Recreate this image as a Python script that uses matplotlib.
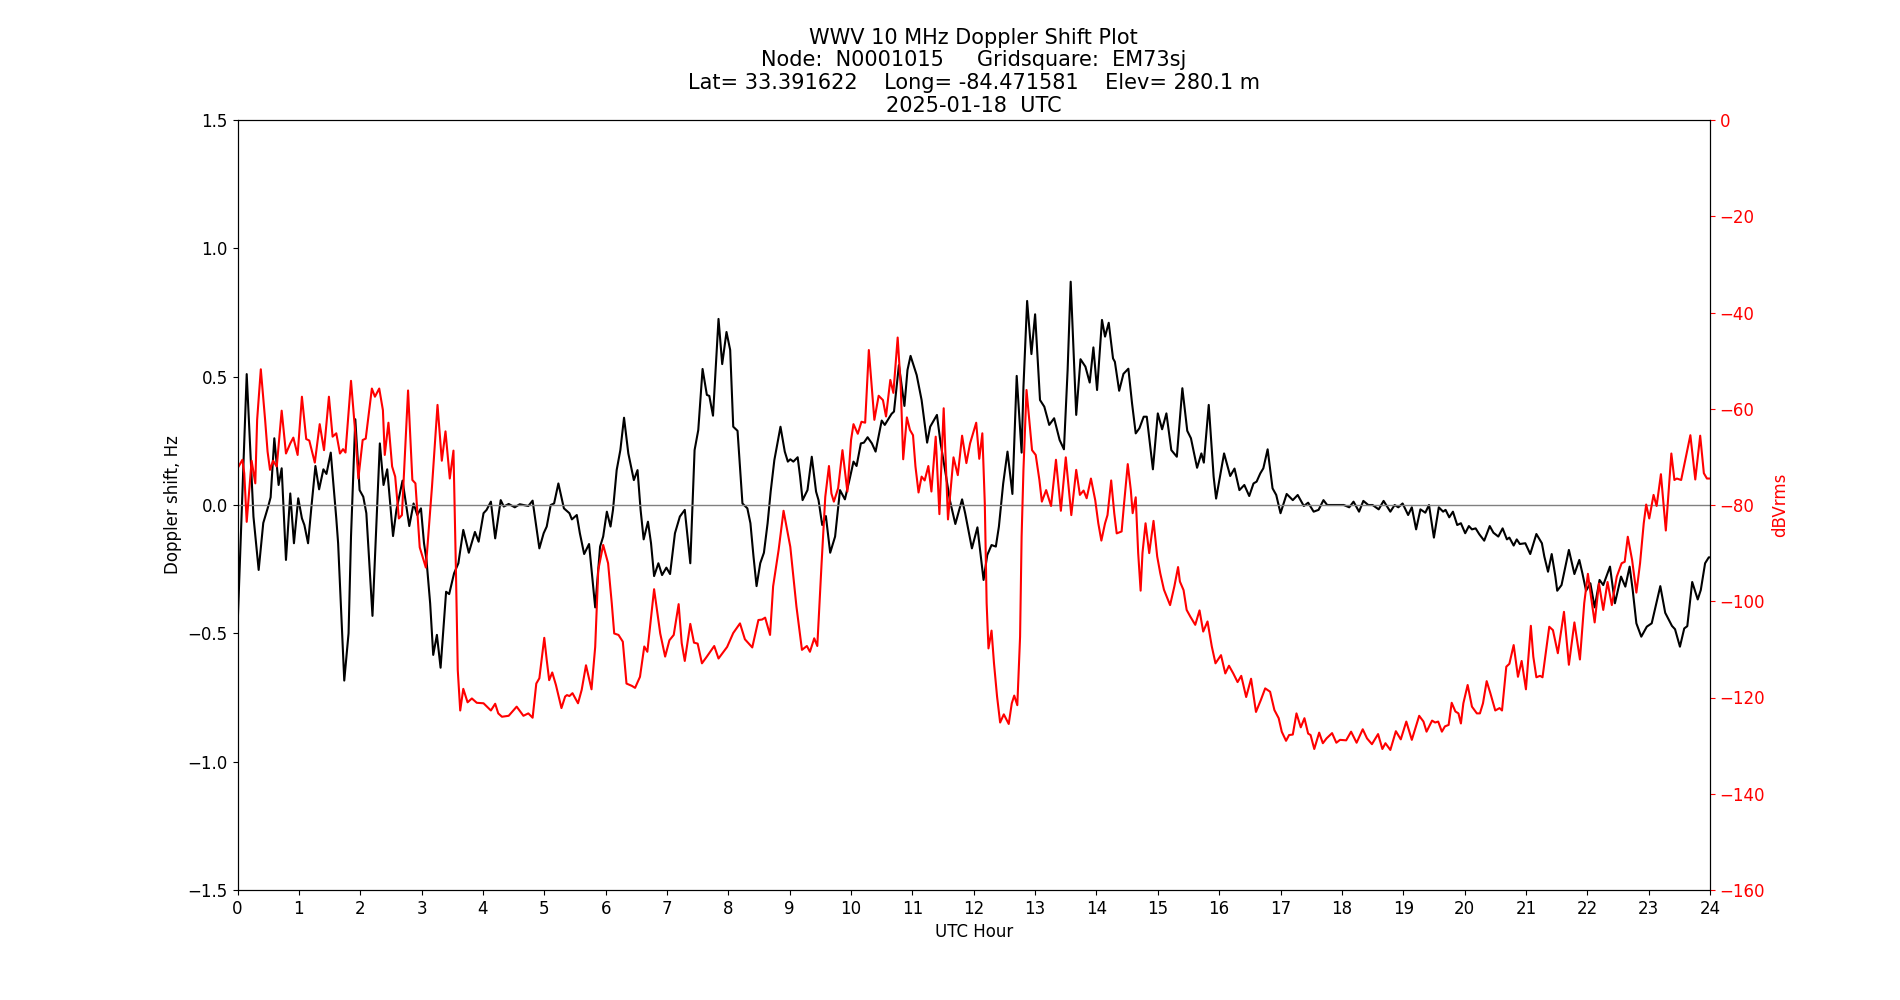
import matplotlib
matplotlib.use("Agg")
from matplotlib import pyplot as plt

plt.rcParams["font.size"] = 12

# Doppler shift (Hz) vs UTC hour
dop_hour = [0.0, 0.15, 0.26, 0.345, 0.42, 0.50, 0.54, 0.60, 0.67, 0.72, 0.79, 0.86, 0.92, 0.99, 1.05, 1.09,
            1.15, 1.21, 1.27, 1.33, 1.40, 1.45, 1.52, 1.61, 1.64, 1.74, 1.81, 1.85, 1.92, 1.99, 2.05, 2.10,
            2.20, 2.32, 2.38, 2.44, 2.535, 2.59, 2.69, 2.80, 2.87, 2.93, 2.99, 3.04, 3.08, 3.14, 3.19, 3.25,
            3.31, 3.40, 3.45, 3.53, 3.60, 3.68, 3.77, 3.87, 3.93, 4.01, 4.06, 4.13, 4.20, 4.29, 4.34, 4.42,
            4.52, 4.60, 4.74, 4.81, 4.92, 4.99, 5.04, 5.105, 5.16, 5.23, 5.32, 5.41, 5.45, 5.53, 5.58, 5.65,
            5.73, 5.83, 5.91, 5.96, 6.02, 6.08, 6.12, 6.18, 6.24, 6.30, 6.37, 6.46, 6.52, 6.57, 6.62, 6.69,
            6.74, 6.79, 6.86, 6.92, 6.99, 7.05, 7.13, 7.21, 7.29, 7.38, 7.45, 7.51, 7.58, 7.65, 7.69, 7.75,
            7.84, 7.90, 7.97, 8.03, 8.08, 8.15, 8.23, 8.31, 8.36, 8.41, 8.46, 8.52, 8.58, 8.64, 8.69, 8.75,
            8.85, 8.92, 8.97, 9.01, 9.06, 9.13, 9.17, 9.21, 9.29, 9.36, 9.43, 9.47, 9.53, 9.59, 9.66, 9.74,
            9.82, 9.90, 9.98, 10.04, 10.09, 10.16, 10.21, 10.27, 10.34, 10.40, 10.50, 10.55, 10.66, 10.70,
            10.78, 10.87, 10.92, 10.97, 11.07, 11.15, 11.24, 11.29, 11.40, 11.46, 11.55, 11.61, 11.70, 11.81,
            11.86, 11.97, 12.06, 12.16, 12.22, 12.29, 12.36, 12.41, 12.48, 12.55, 12.63, 12.70, 12.78, 12.81,
            12.87, 12.94, 13.00, 13.08, 13.15, 13.23, 13.31, 13.40, 13.47, 13.53, 13.58, 13.67, 13.74, 13.82,
            13.89, 13.95, 14.01, 14.09, 14.14, 14.20, 14.27, 14.30, 14.37, 14.44, 14.52, 14.58, 14.64, 14.70,
            14.77, 14.82, 14.92, 15.00, 15.07, 15.14, 15.22, 15.31, 15.40, 15.48, 15.54, 15.64, 15.71, 15.75,
            15.83, 15.91, 15.95, 16.08, 16.18, 16.25, 16.33, 16.41, 16.49, 16.56, 16.61, 16.67, 16.72, 16.79,
            16.87, 16.93, 17.00, 17.10, 17.20, 17.28, 17.38, 17.45, 17.54, 17.62, 17.70, 17.76, 17.86, 18.03,
            18.12, 18.19, 18.28, 18.35, 18.43, 18.50, 18.60, 18.68, 18.79, 18.86, 18.92, 18.99, 19.08, 19.14,
            19.21, 19.28, 19.36, 19.42, 19.50, 19.58, 19.65, 19.69, 19.75, 19.81, 19.88, 19.94, 20.01, 20.07,
            20.12, 20.18, 20.24, 20.32, 20.41, 20.47, 20.55, 20.62, 20.69, 20.73, 20.80, 20.85, 20.90, 20.99,
            21.07, 21.17, 21.26, 21.30, 21.36, 21.42, 21.48, 21.51, 21.58, 21.70, 21.79, 21.87, 21.92, 21.98,
            22.05, 22.12, 22.20, 22.26, 22.37, 22.45, 22.55, 22.62, 22.69, 22.74, 22.80, 22.88, 22.97, 23.05,
            23.19, 23.27, 23.38, 23.43, 23.51, 23.58, 23.63, 23.71, 23.80, 23.85, 23.92, 23.98, 24.0]
dop_hz = [-0.48, 0.51, -0.045, -0.253, -0.07, -0.006, 0.03, 0.26, 0.078, 0.143, -0.214, 0.045, -0.149, 0.026,
          -0.052, -0.078, -0.149, 0.006, 0.152, 0.061, 0.139, 0.121, 0.204, -0.052, -0.149, -0.684, -0.5, -0.123,
          0.334, 0.058, 0.032, -0.032, -0.432, 0.24, 0.078, 0.139, -0.121, -0.019, 0.095, -0.082, 0.006, -0.039,
          -0.013, -0.149, -0.214, -0.383, -0.584, -0.506, -0.634, -0.338, -0.347, -0.266, -0.227, -0.097, -0.186,
          -0.105, -0.143, -0.032, -0.019, 0.013, -0.13, 0.019, -0.006, 0.004, -0.009, 0.003, -0.004, 0.017,
          -0.169, -0.11, -0.084, 0.0, 0.006, 0.084, -0.013, -0.032, -0.056, -0.039, -0.11, -0.191, -0.152,
          -0.399, -0.162, -0.123, -0.026, -0.084, -0.019, 0.136, 0.214, 0.34, 0.201, 0.097, 0.136, -0.019,
          -0.134, -0.065, -0.149, -0.277, -0.227, -0.273, -0.244, -0.269, -0.11, -0.045, -0.019, -0.227, 0.214,
          0.292, 0.53, 0.429, 0.425, 0.348, 0.725, 0.549, 0.674, 0.604, 0.305, 0.289, 0.006, -0.013, -0.071,
          -0.2, -0.316, -0.227, -0.186, -0.071, 0.052, 0.175, 0.305, 0.208, 0.169, 0.178, 0.169, 0.186, 0.11,
          0.019, 0.058, 0.188, 0.052, 0.019, -0.078, -0.043, -0.186, -0.123, 0.058, 0.022, 0.104, 0.169, 0.152,
          0.24, 0.243, 0.264, 0.24, 0.208, 0.329, 0.312, 0.355, 0.364, 0.545, 0.386, 0.526, 0.581, 0.506,
          0.409, 0.243, 0.305, 0.351, 0.24, 0.11, 0.019, -0.074, 0.022, -0.032, -0.169, -0.087, -0.292, -0.195,
          -0.156, -0.162, -0.084, 0.084, 0.208, 0.043, 0.503, 0.204, 0.46, 0.795, 0.588, 0.743, 0.409, 0.383,
          0.312, 0.338, 0.253, 0.217, 0.526, 0.87, 0.351, 0.568, 0.539, 0.477, 0.614, 0.448, 0.721, 0.656,
          0.71, 0.571, 0.558, 0.445, 0.511, 0.531, 0.396, 0.279, 0.299, 0.344, 0.344, 0.139, 0.357, 0.295,
          0.357, 0.214, 0.188, 0.455, 0.289, 0.26, 0.145, 0.201, 0.165, 0.39, 0.11, 0.025, 0.201, 0.113, 0.142,
          0.058, 0.078, 0.035, 0.084, 0.091, 0.123, 0.143, 0.217, 0.065, 0.039, -0.032, 0.043, 0.019, 0.039,
          -0.004, 0.009, -0.026, -0.019, 0.019, 0.0, 0.0, 0.0, -0.009, 0.013, -0.026, 0.016, 0.0, 0.0, -0.017,
          0.016, -0.026, 0.0, -0.009, 0.006, -0.039, -0.009, -0.095, -0.017, -0.03, 0.0, -0.127, -0.009,
          -0.026, -0.019, -0.048, -0.026, -0.078, -0.071, -0.11, -0.082, -0.095, -0.091, -0.114, -0.139,
          -0.082, -0.108, -0.123, -0.091, -0.134, -0.127, -0.158, -0.134, -0.152, -0.149, -0.191, -0.113,
          -0.149, -0.201, -0.26, -0.191, -0.279, -0.334, -0.312, -0.175, -0.269, -0.214, -0.266, -0.334,
          -0.305, -0.399, -0.292, -0.312, -0.24, -0.383, -0.279, -0.318, -0.24, -0.331, -0.461, -0.513,
          -0.474, -0.461, -0.316, -0.42, -0.471, -0.484, -0.552, -0.481, -0.472, -0.3, -0.368, -0.331,
          -0.227, -0.204, -0.204]

# received signal level (dBVrms) vs UTC hour
pwr_hour = [0.0, 0.08, 0.11, 0.15, 0.23, 0.29, 0.32, 0.38, 0.45, 0.49, 0.53, 0.58, 0.64, 0.72, 0.79, 0.86,
            0.91, 0.98, 1.05, 1.12, 1.17, 1.26, 1.34, 1.41, 1.49, 1.55, 1.61, 1.67, 1.72, 1.76, 1.85, 1.92,
            1.97, 2.04, 2.09, 2.19, 2.24, 2.31, 2.37, 2.40, 2.46, 2.52, 2.57, 2.63, 2.68, 2.78, 2.85, 2.90,
            2.97, 3.07, 3.17, 3.26, 3.33, 3.39, 3.46, 3.52, 3.56, 3.59, 3.63, 3.68, 3.75, 3.82, 3.90, 4.01,
            4.13, 4.20, 4.25, 4.31, 4.42, 4.55, 4.66, 4.74, 4.81, 4.87, 4.92, 5.00, 5.04, 5.08, 5.13, 5.19,
            5.28, 5.34, 5.37, 5.41, 5.46, 5.55, 5.61, 5.68, 5.77, 5.83, 5.88, 5.96, 6.04, 6.10, 6.14, 6.21,
            6.28, 6.34, 6.43, 6.48, 6.56, 6.63, 6.68, 6.79, 6.89, 6.97, 7.04, 7.11, 7.19, 7.24, 7.29, 7.38,
            7.44, 7.50, 7.57, 7.65, 7.77, 7.84, 7.91, 7.98, 8.08, 8.19, 8.27, 8.39, 8.49, 8.55, 8.60, 8.68,
            8.73, 8.82, 8.90, 9.01, 9.11, 9.20, 9.28, 9.33, 9.40, 9.45, 9.52, 9.58, 9.64, 9.68, 9.72, 9.79,
            9.86, 9.94, 10.00, 10.04, 10.11, 10.17, 10.23, 10.29, 10.38, 10.45, 10.52, 10.57, 10.64, 10.69,
            10.76, 10.81, 10.85, 10.91, 10.96, 11.01, 11.05, 11.10, 11.15, 11.20, 11.26, 11.31, 11.38, 11.44,
            11.51, 11.58, 11.67, 11.74, 11.81, 11.88, 11.94, 12.04, 12.09, 12.14, 12.18, 12.21, 12.24, 12.29,
            12.33, 12.38, 12.43, 12.49, 12.57, 12.62, 12.66, 12.71, 12.755, 12.78, 12.81, 12.86, 12.95, 13.01,
            13.07, 13.11, 13.18, 13.26, 13.34, 13.42, 13.50, 13.59, 13.67, 13.73, 13.79, 13.84, 13.91, 13.98,
            14.03, 14.08, 14.14, 14.18, 14.24, 14.29, 14.33, 14.41, 14.45, 14.51, 14.56, 14.59, 14.64, 14.68,
            14.72, 14.75, 14.80, 14.86, 14.93, 14.99, 15.04, 15.10, 15.20, 15.27, 15.33, 15.36, 15.42, 15.47,
            15.53, 15.61, 15.68, 15.74, 15.81, 15.88, 15.94, 16.03, 16.10, 16.16, 16.23, 16.30, 16.36, 16.44,
            16.52, 16.60, 16.68, 16.75, 16.83, 16.90, 16.97, 17.02, 17.09, 17.14, 17.20, 17.26, 17.33, 17.39,
            17.45, 17.49, 17.55, 17.63, 17.69, 17.75, 17.84, 17.91, 17.97, 18.07, 18.15, 18.24, 18.34, 18.41,
            18.49, 18.59, 18.66, 18.71, 18.79, 18.88, 18.96, 19.05, 19.14, 19.26, 19.33, 19.38, 19.47, 19.52,
            19.57, 19.63, 19.68, 19.74, 19.79, 19.85, 19.90, 19.94, 19.98, 20.05, 20.12, 20.20, 20.25, 20.30,
            20.36, 20.42, 20.50, 20.57, 20.61, 20.68, 20.73, 20.80, 20.87, 20.93, 21.00, 21.08, 21.12, 21.17,
            21.23, 21.27, 21.38, 21.44, 21.52, 21.62, 21.70, 21.79, 21.88, 21.95, 22.01, 22.06, 22.12, 22.19,
            22.26, 22.33, 22.40, 22.48, 22.56, 22.61, 22.66, 22.73, 22.80, 22.86, 22.92, 22.96, 23.01, 23.08,
            23.13, 23.20, 23.28, 23.37, 23.42, 23.46, 23.53, 23.68, 23.76, 23.84, 23.90, 23.95, 24.0]
pwr_db = [-72.4, -70.6, -73.4, -83.5, -70.8, -75.5, -62.3, -51.8, -62.3, -68.9, -72.7, -70.8, -72.0, -60.4,
          -69.3, -67.2, -66.0, -69.6, -57.5, -66.3, -66.6, -71.2, -63.2, -68.6, -57.5, -65.8, -65.1, -69.3,
          -68.4, -69.1, -54.2, -65.1, -74.5, -66.5, -66.2, -55.8, -57.5, -55.8, -60.3, -69.6, -62.9, -72.0,
          -74.1, -82.8, -82.1, -56.2, -74.8, -75.5, -88.8, -93.0, -76.2, -59.2, -70.8, -64.7, -74.5, -68.7,
          -93.5, -114.3, -122.7, -118.2, -121.0, -120.2, -121.1, -121.2, -122.7, -121.3, -123.3, -124.0,
          -123.8, -121.9, -123.8, -123.3, -124.2, -117.1, -116.0, -107.6, -112.2, -116.4, -114.8, -117.4,
          -122.2, -119.8, -119.5, -119.7, -119.1, -121.2, -118.4, -113.3, -118.3, -109.5, -93.5, -88.3,
          -92.1, -100.4, -106.7, -107.0, -108.4, -117.1, -117.6, -118.0, -115.7, -109.4, -110.5, -97.5,
          -106.7, -111.5, -108.1, -107.0, -100.6, -108.7, -112.4, -104.7, -108.6, -108.8, -112.9, -111.5,
          -109.3, -111.9, -110.7, -109.5, -106.6, -104.6, -107.9, -109.6, -103.9, -103.8, -103.4, -107.0,
          -96.9, -89.3, -81.2, -88.7, -101.1, -110.1, -109.3, -110.5, -107.7, -109.3, -92.1, -78.3, -71.9,
          -77.6, -79.3, -76.5, -68.6, -77.2, -66.5, -63.2, -65.2, -62.7, -62.9, -47.8, -62.3, -57.3, -58.2,
          -61.6, -54.0, -56.7, -45.2, -55.4, -70.5, -61.8, -64.4, -65.5, -72.0, -77.4, -74.1, -74.9, -71.9,
          -77.2, -65.8, -81.9, -59.9, -83.0, -70.1, -73.8, -65.6, -71.3, -67.2, -62.9, -70.4, -65.1, -79.7,
          -100.4, -109.8, -106.1, -112.9, -119.8, -125.2, -123.5, -125.5, -121.2, -119.6, -121.6, -107.4,
          -86.6, -72.7, -56.1, -68.6, -69.6, -74.8, -79.3, -76.9, -80.2, -70.6, -81.2, -70.1, -82.1, -72.7,
          -77.9, -77.0, -78.6, -74.5, -79.0, -83.8, -87.4, -83.8, -82.1, -74.9, -81.7, -85.9, -85.5, -79.7,
          -71.5, -76.9, -81.7, -78.4, -90.0, -97.8, -90.0, -83.8, -90.0, -83.3, -90.7, -94.2, -97.6, -100.8,
          -96.9, -92.9, -95.9, -97.7, -101.8, -103.2, -104.9, -101.9, -106.3, -104.2, -109.4, -112.9, -111.2,
          -115.0, -113.4, -115.0, -116.8, -115.5, -119.9, -116.1, -123.0, -120.5, -118.1, -118.8, -122.6,
          -124.3, -127.1, -129.0, -127.8, -127.7, -123.3, -126.2, -124.3, -127.5, -127.8, -130.7, -127.3,
          -129.5, -128.5, -127.4, -129.4, -128.8, -128.9, -127.1, -129.4, -126.6, -128.5, -129.7, -127.6,
          -130.7, -129.5, -130.9, -127.0, -128.7, -125.0, -128.8, -123.8, -125.0, -127.1, -124.8, -125.2,
          -125.0, -127.1, -126.0, -125.7, -121.1, -122.9, -123.3, -125.4, -121.2, -117.4, -121.9, -123.3,
          -123.3, -121.2, -116.6, -119.1, -122.7, -122.2, -122.7, -113.6, -113.0, -109.1, -115.7, -112.4,
          -118.3, -105.1, -111.5, -115.8, -115.5, -115.8, -105.3, -106.0, -110.8, -102.2, -113.2, -104.4,
          -112.1, -100.4, -94.3, -99.0, -104.4, -96.3, -101.8, -96.0, -100.8, -94.9, -92.1, -91.8, -86.6,
          -91.4, -98.2, -92.1, -83.8, -79.9, -82.8, -77.9, -80.2, -73.6, -85.3, -69.3, -74.8, -74.5, -74.8,
          -65.5, -74.7, -65.6, -73.4, -74.5, -74.5]

title = ("WWV 10 MHz Doppler Shift Plot\n"
         "Node:  N0001015     Gridsquare:  EM73sj\n"
         "Lat= 33.391622    Long= -84.471581    Elev= 280.1 m\n"
         "2025-01-18  UTC")

fig, ax = plt.subplots(figsize=(19, 10), dpi=100)
ax.plot(dop_hour, dop_hz, color="black", linewidth=1.5)
ax.axhline(0, color="gray", linewidth=1)
ax.set_xlim(0, 24)
ax.set_ylim(-1.5, 1.5)
ax.set_xticks(range(25))
ax.set_xlabel("UTC Hour")
ax.set_ylabel("Doppler shift, Hz")
ax.set_title(title, fontsize=15, linespacing=1.17)

ax2 = ax.twinx()
ax2.plot(pwr_hour, pwr_db, color="red", linewidth=1.5)
ax2.set_ylim(-160, 0)
ax2.set_ylabel("dBVrms", color="red")
ax2.tick_params(axis="y", colors="red")
ax2.spines["right"].set_color("black")

fig.savefig("out.png")
